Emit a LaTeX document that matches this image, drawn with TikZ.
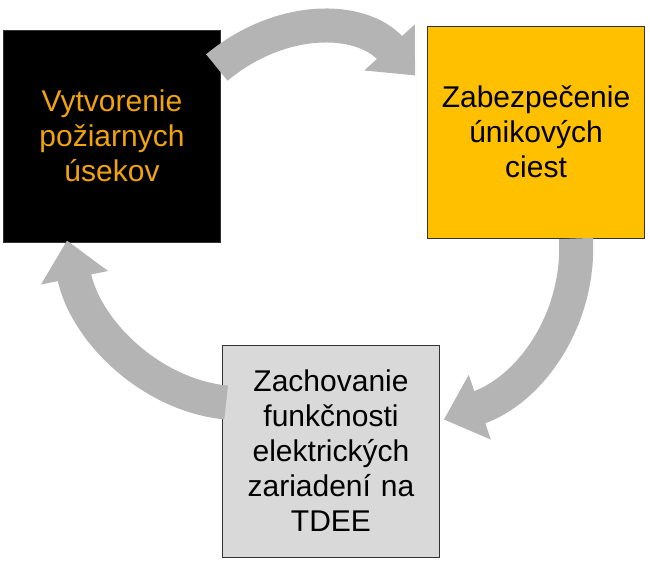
\documentclass[tikz,border=0pt]{standalone}
\usepackage{fontspec}
\setmainfont{Liberation Sans}
\usetikzlibrary{positioning, arrows.meta}
\definecolor{goldtxt}{HTML}{F0A30A}
\definecolor{goldbox}{HTML}{FFC000}
\definecolor{greybox}{HTML}{D9D9D9}
\definecolor{arrowgrey}{HTML}{B4B4B4}

\begin{document}
\begin{tikzpicture}[x=1pt, y=-1pt]
\tikzstyle{stage}=[rectangle, draw=black!80, line width=1pt, minimum width=214pt, minimum height=212pt,
        text width=210pt, align=center, font=\fontsize{30}{35}\selectfont]
\tikzstyle{cycle}=[-{Triangle[width=66pt, length=38pt]}, line width=34pt, draw=arrowgrey]

\useasboundingbox (0,0) rectangle (650,566);

    \node (fire) [stage, fill=black, text=goldtxt] at (112,136) {Vytvorenie\\požiarnych\\úsekov};
    \node (esc) [stage, fill=goldbox] at (536,132) {Zabezpečenie\\únikových\\ciest};
    \node (elec) [stage, fill=greybox] at (331,451) {Zachovanie\\funkčnosti\\elektrických\\zariadení na\\TDEE};

    \coordinate (a1) at ([xshift=-4pt, yshift=-38pt]fire.north east);
    \coordinate (a2) at ([xshift=-12pt, yshift=-50pt]esc.north west);
    \coordinate (b1) at ([xshift=40pt]esc.south);
    \coordinate (b2) at ([xshift=4pt, yshift=-75pt]elec.north east);
    \coordinate (c1) at ([xshift=4pt, yshift=-58pt]elec.north west);
    \coordinate (c2) at ([xshift=-45pt, yshift=2pt]fire.south);

\draw[cycle] (a1) .. controls (280,15) and (360,15) .. (a2);
\draw[cycle] (b1) .. controls (580,320) and (530,390) .. (b2);
\draw[cycle] (c1) .. controls (150,395) and (85,330) .. (c2);

\end{tikzpicture}
\end{document}
